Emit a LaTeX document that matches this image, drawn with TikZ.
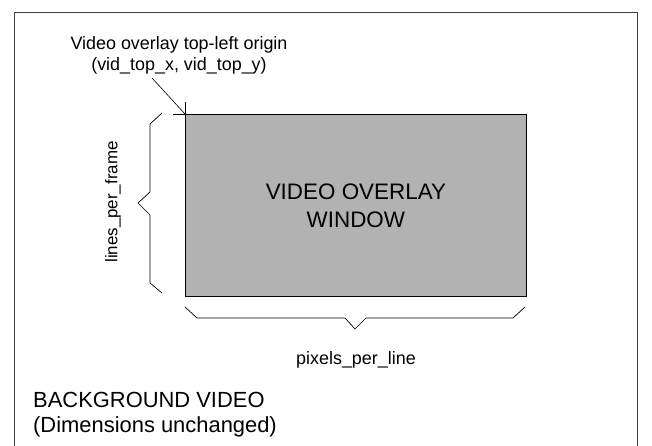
\documentclass[tikz,border=0pt]{standalone}
\usepackage{fontspec}
\setmainfont{Liberation Sans}
\usetikzlibrary{positioning}
\tikzset{
  framebox/.style={draw=black!75, line width=0.8pt},
  overlaybox/.style={draw=black, line width=0.8pt, fill=black!30,
    align=center, font=\fontsize{22.5}{28}\selectfont},
  lbl/.style={font=\fontsize{18}{21}\selectfont, align=center, inner sep=0pt},
  bglbl/.style={font=\fontsize{22}{25}\selectfont, align=left, inner sep=0pt},
  bracket/.style={draw=black, line width=0.7pt},
  leader/.style={draw=black, line width=0.6pt}
}

\begin{document}
\begin{tikzpicture}[x=1bp,y=-1bp]
  \useasboundingbox (0,0) rectangle (652,446);
  \clip (0,0) rectangle (652,446);
  % background video, open at the bottom
  \draw[framebox] (14,460) -- (14,12) -- (637,12) -- (637,460);
  \node[overlaybox, minimum width=341bp, minimum height=182bp, anchor=north west]
    (win) at (185,114) {VIDEO OVERLAY\\WINDOW};
  \node[lbl] (origin) at (179,55) {Video overlay top-left origin\\(vid\_top\_x, vid\_top\_y)};
  \coordinate (lead) at (152,78);
  \draw[leader] (lead) -- (win.north west);
  \draw[leader] (173,114) -- (win.north west) -- (185,102);
  % braces
  \draw[bracket] (162,113) -- (150,124) -- (150,192) -- (138,203) -- (150,215)
    -- (150,283) -- (162,293);
  \draw[bracket] (185,307) -- (197,318) -- (345,318) -- (355,329) -- (366,318)
    -- (513,318) -- (525,307);
  \node[lbl, rotate=90, font=\fontsize{17}{20}\selectfont] (lpf) at (113,202) {lines\_per\_frame};
  \node[lbl] (ppl) at (356,360) {pixels\_per\_line};
  \node[bglbl, anchor=west] (bg) at (33,415) {BACKGROUND VIDEO\\(Dimensions unchanged)};
\end{tikzpicture}
\end{document}
